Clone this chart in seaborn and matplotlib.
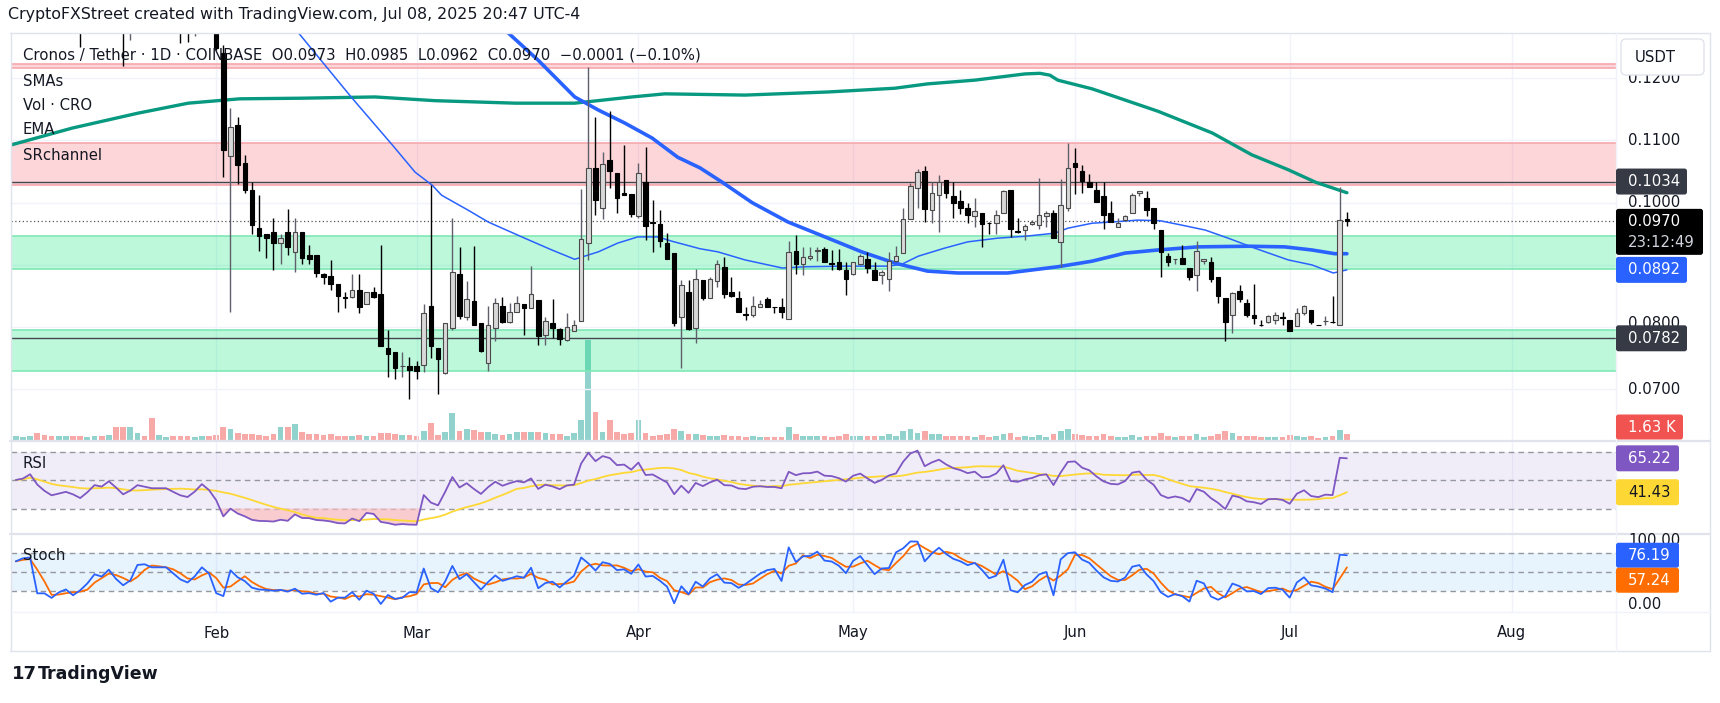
import numpy as np
import pandas as pd
import matplotlib
matplotlib.use("Agg")
import matplotlib.pyplot as plt
import matplotlib.transforms as mtransforms
from matplotlib.patches import FancyBboxPatch
import seaborn as sns

# CRO/USDT daily candles, first bar 2025-01-04, last bar 2025-07-09
first_bar = "2025-01-04"
opens = [
    0.144, 0.146, 0.147, 0.150, 0.143, 0.138, 0.134, 0.135, 0.136, 0.134, 0.131, 0.134, 0.138, 0.137,
    0.140, 0.136, 0.131, 0.133, 0.136, 0.135, 0.134, 0.134, 0.134, 0.132, 0.130, 0.129, 0.131, 0.134,
    0.131, 0.1240, 0.1075,
    0.1125, 0.1064, 0.1021, 0.0960, 0.0950, 0.0953, 0.0936, 0.0953, 0.0920, 0.0953,
    0.0916, 0.0916, 0.0885, 0.0882, 0.0870, 0.0849, 0.0849, 0.0859, 0.0837, 0.0857,
    0.0853, 0.0767, 0.0760, 0.0737, 0.0737, 0.0737, 0.0739, 0.0834, 0.0766, 0.0727,
    0.0798, 0.0885, 0.0816, 0.0842, 0.0806, 0.0743, 0.0798, 0.0834, 0.0808, 0.0824,
    0.0837, 0.0830, 0.0844, 0.0787, 0.0807, 0.0797, 0.0779, 0.0794, 0.0810, 0.0936,
    0.1055, 0.0992, 0.1068, 0.1047, 0.1015, 0.1014, 0.0979, 0.1034, 0.0969, 0.0966,
    0.0936, 0.0919, 0.0816, 0.0857, 0.0798, 0.0876, 0.0847, 0.0874, 0.0897, 0.0857,
    0.0846, 0.0821, 0.0819, 0.0833, 0.0845, 0.0833, 0.0833, 0.0813, 0.0923, 0.0901,
    0.0911, 0.0923, 0.0925, 0.0903, 0.0904, 0.0892, 0.0885, 0.0902, 0.0909, 0.0892,
    0.0884, 0.0878, 0.0906, 0.0919, 0.0974, 0.1023, 0.1051, 0.0989, 0.1013, 0.1036,
    0.1011, 0.1003, 0.0991, 0.0979, 0.0983, 0.0968, 0.0968, 0.0983, 0.1020, 0.0954,
    0.0956, 0.0965, 0.0964, 0.0979, 0.0983, 0.0937, 0.0992, 0.1064, 0.1051, 0.1034,
    0.1020, 0.1010, 0.0984, 0.0961, 0.0972, 0.0984, 0.1015, 0.1007, 0.0991, 0.0956,
    0.0915, 0.0909, 0.0911, 0.0895, 0.0884, 0.0906, 0.0904, 0.0881, 0.0847, 0.0819,
    0.0858, 0.0838, 0.0819, 0.0804, 0.0808, 0.0812, 0.0817, 0.0811, 0.0802, 0.0823,
    0.0827, 0.0804, 0.0810, 0.0809, 0.0803, 0.0973,
]
highs = [
    0.148, 0.149, 0.153, 0.152, 0.145, 0.140, 0.138, 0.138, 0.137, 0.135, 0.136, 0.140, 0.140, 0.143,
    0.141, 0.138, 0.137, 0.138, 0.139, 0.137, 0.137, 0.136, 0.135, 0.133, 0.132, 0.133, 0.136, 0.136,
    0.132, 0.1253, 0.1152,
    0.1137, 0.1077, 0.1034, 0.1013, 0.0950, 0.0975, 0.0950, 0.0990, 0.0975, 0.0953,
    0.0932, 0.0916, 0.0887, 0.0908, 0.0870, 0.0857, 0.0885, 0.0885, 0.0857, 0.0865,
    0.0932, 0.0796, 0.0760, 0.0760, 0.0752, 0.0745, 0.0837, 0.1028, 0.0766, 0.0806,
    0.0976, 0.0929, 0.0874, 0.0930, 0.0806, 0.0834, 0.0847, 0.0849, 0.0838, 0.0850,
    0.0837, 0.0899, 0.0844, 0.0817, 0.0845, 0.0799, 0.0822, 0.0812, 0.1022, 0.1218,
    0.1137, 0.1082, 0.1148, 0.1047, 0.1093, 0.1014, 0.1064, 0.1090, 0.1004, 0.0988,
    0.0951, 0.0919, 0.0875, 0.0875, 0.0894, 0.0876, 0.0881, 0.0908, 0.0913, 0.0881,
    0.0858, 0.0833, 0.0850, 0.0844, 0.0849, 0.0833, 0.0846, 0.0939, 0.0948, 0.0929,
    0.0929, 0.0929, 0.0929, 0.0924, 0.0925, 0.0905, 0.0905, 0.0917, 0.0921, 0.0905,
    0.0892, 0.0921, 0.0930, 0.0991, 0.1031, 0.1054, 0.1059, 0.1034, 0.1044, 0.1036,
    0.1034, 0.1021, 0.0999, 0.1008, 0.0984, 0.0969, 0.0989, 0.1020, 0.1021, 0.0975,
    0.0965, 0.0972, 0.1039, 0.0986, 0.0989, 0.1038, 0.1096, 0.1088, 0.1061, 0.1046,
    0.1034, 0.1034, 0.1003, 0.0976, 0.0980, 0.1015, 0.1018, 0.1019, 0.0991, 0.0956,
    0.0919, 0.0909, 0.0932, 0.0895, 0.0939, 0.0910, 0.0912, 0.0881, 0.0847, 0.0857,
    0.0868, 0.0845, 0.08698, 0.0811, 0.0819, 0.0825, 0.0825, 0.0812, 0.0831, 0.0835,
    0.0828, 0.0804, 0.0818, 0.0850, 0.1025, 0.0985,
]
lows = [
    0.142, 0.144, 0.145, 0.141, 0.135, 0.132, 0.131, 0.133, 0.132, 0.1250, 0.130, 0.133, 0.135, 0.136,
    0.134, 0.1219, 0.1262, 0.131, 0.133, 0.131, 0.132, 0.132, 0.130, 0.1256, 0.1259, 0.1268, 0.130, 0.129,
    0.1245, 0.1042, 0.0825,
    0.1030, 0.1015, 0.0950, 0.0923, 0.0911, 0.0892, 0.0901, 0.0916, 0.0889, 0.0902,
    0.0902, 0.0880, 0.0870, 0.0860, 0.0825, 0.0830, 0.0846, 0.0822, 0.0837, 0.0846,
    0.0770, 0.0720, 0.0716, 0.0720, 0.0685, 0.0716, 0.0728, 0.0750, 0.0692, 0.0724,
    0.0795, 0.0813, 0.0811, 0.0803, 0.0760, 0.0729, 0.0777, 0.0806, 0.0806, 0.0824,
    0.0788, 0.0830, 0.0771, 0.0771, 0.0782, 0.0771, 0.0778, 0.0794, 0.0810, 0.0908,
    0.0980, 0.0974, 0.1023, 0.0984, 0.1013, 0.0977, 0.0976, 0.0940, 0.0920, 0.0929,
    0.0909, 0.0801, 0.0734, 0.0795, 0.0774, 0.0844, 0.0847, 0.0865, 0.0847, 0.0849,
    0.0824, 0.0811, 0.0817, 0.0833, 0.0832, 0.0823, 0.0814, 0.0813, 0.0885, 0.0884,
    0.0908, 0.0906, 0.0904, 0.0892, 0.0892, 0.0852, 0.0884, 0.0900, 0.0887, 0.0875,
    0.0869, 0.0858, 0.0905, 0.0919, 0.0974, 0.0991, 0.0969, 0.0968, 0.0953, 0.1007,
    0.0976, 0.0982, 0.0967, 0.0961, 0.0929, 0.0950, 0.0949, 0.0983, 0.0945, 0.0952,
    0.0940, 0.0964, 0.0957, 0.0961, 0.0943, 0.0897, 0.0986, 0.1014, 0.1015, 0.1025,
    0.1001, 0.0957, 0.0969, 0.0961, 0.0971, 0.0984, 0.1010, 0.0979, 0.0957, 0.0881,
    0.0899, 0.0902, 0.0901, 0.0875, 0.0858, 0.0902, 0.0872, 0.0838, 0.0778, 0.0791,
    0.0841, 0.0817, 0.0805, 0.0802, 0.0806, 0.0805, 0.0803, 0.0794, 0.0802, 0.0819,
    0.0805, 0.0804, 0.0803, 0.0806, 0.0803, 0.0962,
]
closes = [
    0.146, 0.147, 0.150, 0.143, 0.138, 0.134, 0.135, 0.136, 0.134, 0.131, 0.134, 0.138, 0.137, 0.140,
    0.136, 0.131, 0.133, 0.136, 0.135, 0.134, 0.134, 0.134, 0.132, 0.130, 0.129, 0.131, 0.134, 0.131,
    0.1248, 0.1085, 0.1122,
    0.1061, 0.1020, 0.0964, 0.0946, 0.0943, 0.0936, 0.0943, 0.0929, 0.0953, 0.0911,
    0.0909, 0.0887, 0.0881, 0.0870, 0.0850, 0.0846, 0.0860, 0.0833, 0.0857, 0.0849,
    0.0770, 0.0756, 0.0735, 0.0737, 0.0731, 0.0729, 0.0822, 0.0770, 0.0748, 0.0806,
    0.0889, 0.0818, 0.0845, 0.0803, 0.0762, 0.0803, 0.0838, 0.0809, 0.0825, 0.0838,
    0.0830, 0.0853, 0.0786, 0.0810, 0.0799, 0.0781, 0.0800, 0.0804, 0.0942, 0.1055,
    0.1005, 0.1063, 0.1051, 0.1008, 0.1013, 0.0982, 0.1047, 0.0963, 0.0967, 0.0938,
    0.0909, 0.0806, 0.0868, 0.0797, 0.0878, 0.0847, 0.0878, 0.0901, 0.0853, 0.0850,
    0.0824, 0.0819, 0.0834, 0.0837, 0.0832, 0.0832, 0.0824, 0.0920, 0.0901, 0.0913,
    0.0914, 0.0923, 0.0904, 0.0902, 0.0893, 0.0878, 0.0904, 0.0914, 0.0895, 0.0876,
    0.0888, 0.0906, 0.0915, 0.0973, 0.1027, 0.1049, 0.0990, 0.1015, 0.1034, 0.1015,
    0.1000, 0.0992, 0.0980, 0.0987, 0.0965, 0.0967, 0.0981, 0.1019, 0.0957, 0.0953,
    0.0963, 0.0969, 0.0980, 0.0984, 0.0944, 0.0996, 0.1055, 0.1058, 0.1035, 0.1025,
    0.1001, 0.0980, 0.0969, 0.0967, 0.0979, 0.1013, 0.1018, 0.0989, 0.0968, 0.0920,
    0.0904, 0.0909, 0.0901, 0.0881, 0.0922, 0.0910, 0.0877, 0.0850, 0.0808, 0.0855,
    0.0845, 0.0820, 0.0814, 0.0803, 0.0818, 0.0819, 0.0814, 0.0794, 0.0823, 0.0834,
    0.0808, 0.0803, 0.0810, 0.0808, 0.0972, 0.0970,
]
# volume in thousand CRO
volumes = [
    1.0, 0.8, 1.2, 1.8, 1.3, 1.1, 1.0, 1.0, 1.2, 1.0, 0.9, 1.0, 1.1, 1.4,
    3.6, 3.6, 3.5, 1.8, 1.2, 6.0, 1.3, 0.9, 1.0, 1.0, 1.2, 0.9, 1.0, 1.2,
    1.4, 3.6, 3.0,
    2.0, 1.6, 1.5, 1.3, 1.2, 1.6, 3.6, 3.6, 4.2, 2.3,
    1.6, 1.5, 1.4, 1.5, 1.2, 1.2, 1.2, 1.4, 1.0, 1.2,
    1.8, 2.0, 1.5, 1.4, 1.4, 1.2, 2.5, 4.6, 1.3, 2.1,
    7.2, 2.5, 3.0, 2.8, 2.3, 2.2, 1.6, 1.3, 1.6, 2.1,
    2.2, 2.2, 2.3, 2.0, 1.5, 1.5, 1.2, 2.0, 5.5, 27.0,
    7.5, 2.3, 5.5, 2.3, 1.5, 1.8, 5.4, 1.8, 1.2, 1.3,
    1.6, 3.0, 2.4, 1.5, 1.5, 1.3, 1.0, 1.2, 1.4, 1.0,
    1.2, 0.9, 1.0, 0.8, 0.9, 0.7, 0.9, 3.5, 1.5, 1.2,
    1.0, 1.0, 1.0, 0.9, 1.0, 1.5, 1.0, 1.0, 1.1, 1.2,
    1.0, 1.5, 1.0, 2.5, 3.0, 2.0, 2.5, 1.5, 1.7, 1.2,
    1.2, 1.0, 1.0, 0.9, 1.3, 0.8, 1.0, 1.5, 2.0, 0.9,
    1.0, 0.8, 1.3, 0.9, 1.6, 2.5, 3.0, 1.5, 1.3, 1.0,
    1.2, 1.5, 1.0, 0.8, 0.8, 1.3, 0.8, 1.2, 1.2, 1.8,
    1.0, 0.7, 1.0, 1.2, 1.5, 0.8, 1.2, 1.5, 2.5, 1.8,
    1.0, 1.2, 1.0, 0.7, 0.8, 0.8, 0.8, 1.3, 1.0, 0.9,
    1.0, 0.6, 0.7, 1.0, 2.8, 1.63,
]

# moving averages: days counted from 2025-02-01
sma_fast_day = [8, 11, 19, 24.6, 27.8, 30.2, 31.5, 35.2, 38, 43.1, 46.9, 50.1, 53.4, 56.1, 58.9, 61.7,
                63.7, 67.6, 70.1, 73.9, 79.1, 82.3, 87.9, 93.9, 95.8, 98.1, 101.8, 105, 109.2, 113,
                117.2, 119, 122.4, 125.2, 128.8, 131.9, 134.9, 138.2, 141.4, 145.1, 149.8, 153.1, 156.1, 158]
sma_fast_val = [0.1320, 0.1280, 0.1168, 0.1093, 0.1049, 0.1028, 0.1012, 0.0988, 0.0969, 0.0943, 0.0924,
                0.0909, 0.0921, 0.0935, 0.0945, 0.0945, 0.0938, 0.0926, 0.0921, 0.0908, 0.0895, 0.0897,
                0.0898, 0.0898, 0.0901, 0.0914, 0.0927, 0.0937, 0.0943, 0.0946, 0.0951, 0.0959, 0.0967,
                0.0969, 0.0972, 0.0971, 0.0964, 0.0956, 0.0943, 0.0927, 0.0908, 0.0900, 0.0887, 0.0892]
sma_slow_day = [38.3, 40.8, 45, 50.1, 53.4, 57.1, 60.9, 64.5, 67.6, 70.7, 74.9, 79.9, 85.5, 90.2, 94.8,
                99.4, 103.6, 110.6, 117.6, 122.4, 127, 131.6, 137.2, 144.2, 149.3, 153.1, 156.3, 158]
sma_slow_val = [0.1298, 0.1273, 0.1229, 0.1170, 0.1149, 0.1128, 0.1104, 0.1073, 0.1056, 0.1033, 0.1000,
                0.0969, 0.0943, 0.0921, 0.0903, 0.0890, 0.0887, 0.0887, 0.0897, 0.0906, 0.0919, 0.0924,
                0.0929, 0.0930, 0.0929, 0.0924, 0.0918, 0.0918]
sma_long_day = [-28.6, -20.1, -10.9, -3.9, 3.3, 12, 22.2, 30.6, 41.8, 50.1, 58.1, 62.7, 73.9, 78.5, 85.5,
                94.8, 99.4, 106, 113, 115.1, 116.5, 117.6, 122.4, 127, 131.6, 139.2, 144.7, 149.8, 153.6, 158]
sma_long_val = [0.1093, 0.1120, 0.1144, 0.1160, 0.1167, 0.1168, 0.1170, 0.1164, 0.1160, 0.1160, 0.1170,
                0.1175, 0.1173, 0.1175, 0.1178, 0.1184, 0.1191, 0.1197, 0.1207, 0.1208, 0.1205, 0.1197,
                0.1183, 0.1165, 0.1147, 0.1112, 0.1077, 0.1053, 0.1033, 0.1016]

# support / resistance channels (low, high)
sr_zones = [(0.1216, 0.1223, "red"), (0.10285, 0.10965, "red"), (0.0893, 0.0947, "green"), (0.0729, 0.0796, "green")]
sr_lines = [0.1034, 0.0782]

price_ticks = [0.12, 0.11, 0.10, 0.08, 0.07]
month_labels = ["Feb", "Mar", "Apr", "May", "Jun", "Jul", "Aug"]

sns.set_theme(style="white")
plt.rcParams["font.family"] = ["DejaVu Sans"]

W, H = 1720, 703
TXT = "#131722"
GRID = "#f0f3fa"

day0 = pd.Timestamp("2025-02-01")
dates = pd.date_range(first_bar, periods=len(closes), freq="D")
df = pd.DataFrame({"day": (dates - day0).days.astype(float), "open": opens, "high": highs,
                   "low": lows, "close": closes, "vol": volumes})
df["up"] = df["close"] >= df["open"]
months = pd.date_range("2025-02-01", "2025-08-01", freq="MS")
month_days = (months - day0).days.values

# indicators
delta = df["close"].diff().fillna(0.0).values
ag, al = 0.002, 0.002
rsi = []
for d in delta:
    ag = (ag * 13 + max(d, 0)) / 14
    al = (al * 13 + max(-d, 0)) / 14
    rsi.append(100 - 100 / (1 + ag / al))
df["rsi"] = rsi
df["rsi_ma"] = df["rsi"].rolling(14, min_periods=1).mean()
ll = df["low"].rolling(14, min_periods=1).min()
hh = df["high"].rolling(14, min_periods=1).max()
df["k"] = 100 * (df["close"] - ll) / (hh - ll)
df["d"] = df["k"].rolling(3, min_periods=1).mean()

fig = plt.figure(figsize=(W / 100, H / 100), dpi=100)
fig.patch.set_facecolor("white")


def box(x0, y0, x1, y1):
    return [x0 / W, 1 - y1 / H, (x1 - x0) / W, (y1 - y0) / H]


ax = fig.add_axes(box(11, 34, 1616, 440))
ax_r = fig.add_axes(box(11, 441, 1616, 533))
ax_s = fig.add_axes(box(11, 534, 1616, 612))

xlim = (-28.67, 195.6)
for a in (ax, ax_r, ax_s):
    a.set_xlim(*xlim)
    a.set_xticks([])
    a.set_yticks([])
    for s in a.spines.values():
        s.set_visible(False)
    for md in month_days:
        a.axvline(md, color=GRID, lw=1, zorder=0)

ax.set_ylim(0.06185, 0.12712)
ax_r.set_ylim(12.81, 77.37)
ax_s.set_ylim(-12.5, 109.4)

for t in [0.12, 0.11, 0.10, 0.09, 0.08, 0.07]:
    ax.axhline(t, color=GRID, lw=1, zorder=0)

# volume on its own scale
ax_v = ax.twinx()
ax_v.set_ylim(0, 110)
ax_v.set_yticks([])
for s in ax_v.spines.values():
    s.set_visible(False)
ax_v.set_zorder(ax.get_zorder() - 1)
ax.patch.set_visible(False)
ax_v.bar(df["day"], df["vol"], width=0.8,
         color=np.where(df["up"], "#92d2cc", "#f7a9a7"), linewidth=0)

# SR channels
for lo, hi, kind in sr_zones:
    fc = "#f23645" if kind == "red" else "#00e676"
    ec = "#f7a8ad" if kind == "red" else "#7fe8b6"
    ax.axhspan(lo, hi, color=fc, alpha=0.2 if kind == "red" else 0.26, lw=0, zorder=1)
    ax.axhline(lo, color=ec, lw=1.2, zorder=1)
    ax.axhline(hi, color=ec, lw=1.2, zorder=1)
for lv in sr_lines:
    ax.axhline(lv, color="#434651", lw=1.0, zorder=2)
ax.axhline(closes[-1], color="#555555", lw=0.9, ls=(0, (1, 2)), zorder=2)

# moving averages
sns.lineplot(x=sma_long_day, y=sma_long_val, ax=ax, color="#089981", lw=2.4, zorder=3)
sns.lineplot(x=sma_slow_day, y=sma_slow_val, ax=ax, color="#2962ff", lw=2.6, zorder=3)
sns.lineplot(x=sma_fast_day, y=sma_fast_val, ax=ax, color="#2962ff", lw=1.1, zorder=3)

# candles
up = df[df["up"]]
dn = df[~df["up"]]
ax.vlines(up["day"], up["low"], up["high"], color="#5d606b", lw=1.0, zorder=4)
ax.vlines(dn["day"], dn["low"], dn["high"], color="#000000", lw=1.0, zorder=4)
bw = 0.64
ax.bar(up["day"], np.maximum(up["close"] - up["open"], 0.00003), bottom=up["open"], width=bw,
       color="#d9d9d9", edgecolor="#4a4a4a", lw=0.8, zorder=5)
ax.bar(dn["day"], np.maximum(dn["open"] - dn["close"], 0.00003), bottom=dn["close"], width=bw,
       color="#000000", edgecolor="#000000", lw=0.8, zorder=5)

# RSI pane
ax_r.axhspan(30, 70, color="#7e57c2", alpha=0.1, lw=0, zorder=0)
for lv in (70, 50, 30):
    ax_r.axhline(lv, color="#9598a1", lw=1, ls=(0, (4, 3)), zorder=1)
r = df["rsi"].values
ax_r.fill_between(df["day"], r, 30, where=r < 30, interpolate=True, color="#f7b9bd", alpha=0.7, lw=0)
ax_r.fill_between(df["day"], r, 70, where=r > 70, interpolate=True, color="#9fe3c6", alpha=0.7, lw=0)
sns.lineplot(data=df, x="day", y="rsi_ma", ax=ax_r, color="#fdd835", lw=1.3, zorder=2)
sns.lineplot(data=df, x="day", y="rsi", ax=ax_r, color="#7e57c2", lw=1.3, zorder=3)

# Stoch pane
ax_s.axhspan(20, 80, color="#2196f3", alpha=0.1, lw=0, zorder=0)
for lv in (80, 50, 20):
    ax_s.axhline(lv, color="#9598a1", lw=1, ls=(0, (4, 3)), zorder=1)
sns.lineplot(data=df, x="day", y="k", ax=ax_s, color="#2962ff", lw=1.3, zorder=3)
sns.lineplot(data=df, x="day", y="d", ax=ax_s, color="#ff6d00", lw=1.3, zorder=2)

for a in (ax, ax_r, ax_s, ax_v):
    a.set_xlabel("")
    a.set_ylabel("")

ident = mtransforms.IdentityTransform()


def ypix(a, v):
    return a.transData.transform((0, v))[1]


def px_text(x, y_top, s, **kw):
    # y given from the top edge of the image
    return fig.text(x / W, 1 - y_top / H, s, **kw)


def tag(yc_top, text, fc, tc="white", w=71, h=26, fs=10.7):
    fig.add_artist(FancyBboxPatch((1616, H - yc_top - h / 2), w, h,
                                  boxstyle="round,pad=0,rounding_size=2.5",
                                  transform=ident, fc=fc, ec="none", zorder=20))
    px_text(1628, yc_top, text, color=tc, fontsize=fs, va="center", ha="left", zorder=21)


# frame and separators
def hline_px(y, x0, x1, color="#e0e3eb", lw=1.0):
    fig.add_artist(plt.Line2D([x0 / W, x1 / W], [1 - y / H, 1 - y / H], color=color, lw=lw,
                              transform=fig.transFigure))


def vline_px(x, y0, y1, color="#e0e3eb", lw=1.0):
    fig.add_artist(plt.Line2D([x / W, x / W], [1 - y0 / H, 1 - y1 / H], color=color, lw=lw,
                              transform=fig.transFigure))


hline_px(33, 10, 1710)
hline_px(651, 10, 1710)
vline_px(10.5, 33, 651)
vline_px(1710, 33, 651)
hline_px(440.5, 10, 1710, lw=1.6)
hline_px(533.5, 10, 1710, lw=1.6)
hline_px(612, 10, 1710, color="#f0f3fa")
vline_px(1616, 33, 651, color="#f0f3fa")

# price scale; 0.0800 sits just above the 0.0782 tag and is partly hidden by it
for t in price_ticks:
    yy = H - ypix(ax, t)
    if abs(t - 0.08) < 1e-9:
        yy -= 4
    px_text(1628, yy, f"{t:.4f}", color=TXT, fontsize=10.7, va="center", ha="left", zorder=10)

fig.add_artist(FancyBboxPatch((1621, H - 75), 83, 36, boxstyle="round,pad=0,rounding_size=5",
                              transform=ident, fc="white", ec="#e0e3eb", lw=1, zorder=22))
px_text(1655, 57.5, "USDT", color=TXT, fontsize=10.7, ha="center", va="center", zorder=23)

tag(H - ypix(ax, sr_lines[0]), f"{sr_lines[0]:.4f}", "#363a45")
tag(H - ypix(ax, sr_lines[1]), f"{sr_lines[1]:.4f}", "#363a45")
tag(H - ypix(ax, sma_fast_val[-1]), f"{sma_fast_val[-1]:.4f}", "#2962ff")
yc = H - ypix(ax, closes[-1])
fig.add_artist(FancyBboxPatch((1616, H - yc - 12.5 - 21), 87, 46, boxstyle="round,pad=0,rounding_size=2.5",
                              transform=ident, fc="#000000", ec="none", zorder=20))
px_text(1628, yc, f"{closes[-1]:.4f}", color="white", fontsize=10.7, va="center", zorder=21)
px_text(1628, yc + 21, "23:12:49", color="#d1d4dc", fontsize=10.7, va="center", zorder=21)

tag(427, f"{volumes[-1]:.2f} K", "#f05350", w=67, h=25)
tag(H - ypix(ax_r, df["rsi"].iloc[-1]), f"{df['rsi'].iloc[-1]:.2f}", "#7e57c2", w=63)
tag(H - ypix(ax_r, df["rsi_ma"].iloc[-1]), f"{df['rsi_ma'].iloc[-1]:.2f}", "#fdd835", tc="#131722", w=63)
px_text(1628, H - ypix(ax_s, 100), "100.00", color=TXT, fontsize=10.7, va="center", zorder=10)
px_text(1628, H - ypix(ax_s, 0), "0.00", color=TXT, fontsize=10.7, va="center", zorder=10)
yk = H - ypix(ax_s, df["k"].iloc[-1])
tag(yk, f"{df['k'].iloc[-1]:.2f}", "#2962ff", w=63, h=25)
tag(yk + 25, f"{df['d'].iloc[-1]:.2f}", "#ff6d00", w=63, h=25)

# time axis
for md, lab in zip(month_days, month_labels):
    xp = ax.transData.transform((md, 0))[0]
    px_text(xp, 633, lab, color=TXT, fontsize=10.7, ha="center", va="center")

# legends / titles
px_text(8, 15, "CryptoFXStreet created with TradingView.com, Jul 08, 2025 20:47 UTC-4",
        color=TXT, fontsize=11.4, va="center")
px_text(23, 55, "Cronos / Tether · 1D · COINBASE  O0.0973  H0.0985  L0.0962  C0.0970  −0.0001 (−0.10%)",
        color=TXT, fontsize=10.7, va="center", zorder=30)
for yy, lab in [(81, "SMAs"), (106, "Vol · CRO"), (130, "EMA"), (155, "SRchannel")]:
    px_text(23, yy, lab, color=TXT, fontsize=10.7, va="center", zorder=30)
px_text(23, 463, "RSI", color=TXT, fontsize=10.7, va="center", zorder=30)
px_text(23, 555, "Stoch", color=TXT, fontsize=10.7, va="center", zorder=30)
px_text(12, 674, "17", color=TXT, fontsize=13, fontweight="bold", va="center")
px_text(38, 674, "TradingView", color=TXT, fontsize=12.5, fontweight="bold", va="center")

fig.savefig("out.png", dpi=100)
